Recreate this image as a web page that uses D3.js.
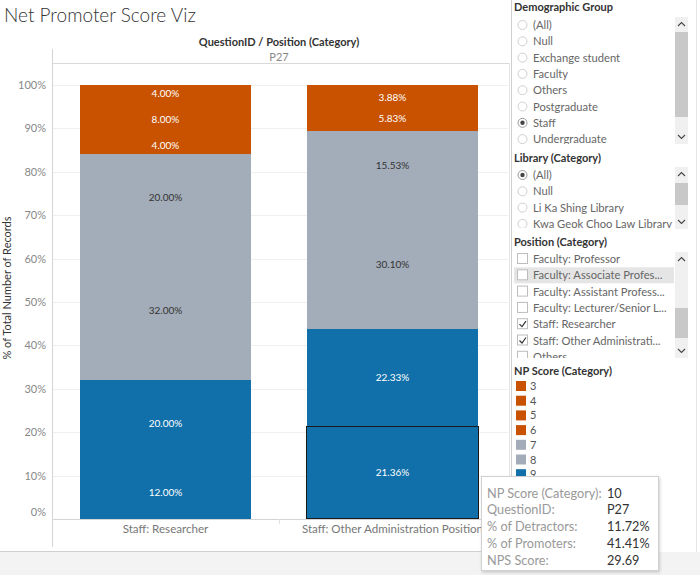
<!DOCTYPE html>
<html>
<head>
<meta charset="utf-8">
<script src="https://cdn.jsdelivr.net/npm/d3@7"></script>
<style>
  html, body { margin: 0; padding: 0; background: #fff; }
  svg { display: block; font-family: Lato, "Open Sans", sans-serif; }
</style>
</head>
<body>
<svg id="chart" width="700" height="575"></svg>
<script>
// ---------------- data ----------------
const categories = ["Staff: Researcher", "Staff: Other Administration Position"];
const scores = ["3", "4", "5", "6", "7", "8", "9", "10"];
const researcherPct = [0, 4.00, 8.00, 4.00, 20.00, 32.00, 20.00, 12.00];
const otherAdminPct = [0.97, 3.88, 5.83, 0, 15.53, 30.10, 22.33, 21.36];
const yTicks = [0, 0.1, 0.2, 0.3, 0.4, 0.5, 0.6, 0.7, 0.8, 0.9, 1.0];
const scoreGroup = ["det", "det", "det", "det", "pas", "pas", "pro", "pro"];
const demographicItems = ["(All)", "Null", "Exchange student", "Faculty", "Others", "Postgraduate", "Staff", "Undergraduate"];
const demographicSelected = "Staff";
const libraryItems = ["(All)", "Null", "Li Ka Shing Library", "Kwa Geok Choo Law Library"];
const librarySelected = "(All)";
const positionItems = ["Faculty: Professor", "Faculty: Associate Profes...", "Faculty: Assistant Profess...", "Faculty: Lecturer/Senior L...", "Staff: Researcher", "Staff: Other Administrati...", "Others"];
const positionChecked = ["Staff: Researcher", "Staff: Other Administrati..."];
const tooltipLabels = ["NP Score (Category):", "QuestionID:", "% of Detractors:", "% of Promoters:", "NPS Score:"];
const tooltipValues = ["10", "P27", "11.72%", "41.41%", "29.69"];

const groupColor = { det: "#c85200", pas: "#a3acb9", pro: "#1170aa" };
const labelColor = { det: "#ffffff", pas: "#333333", pro: "#ffffff" };

// ---------------- setup ----------------
const svg = d3.select("#chart");
const plotLeft = 52, plotRight = 506, yTop = 85, yBottom = 519;

// backgrounds
svg.append("rect").attr("x", 0).attr("y", 552).attr("width", 700).attr("height", 23).attr("fill", "#f3f3f3");
svg.append("line").attr("x1", 0).attr("x2", 511).attr("y1", 551.5).attr("y2", 551.5).attr("stroke", "#cfcfcf");

// title
svg.append("text").attr("x", 4).attr("y", 22).attr("font-size", 19).attr("font-weight", 300)
  .attr("fill", "#333").text("Net Promoter Score Viz");

// scales
const x = d3.scaleBand().domain(categories).range([plotLeft, plotRight]).paddingInner(0.247).paddingOuter(0.1235);
const y = d3.scaleLinear().domain([0, 1]).range([yBottom, yTop]);

// header
svg.append("text").attr("x", (plotLeft + plotRight) / 2).attr("y", 46).attr("text-anchor", "middle")
  .attr("font-size", 11).attr("font-weight", 700).attr("fill", "#333").text("QuestionID / Position (Category)");
svg.append("text").attr("x", (plotLeft + plotRight) / 2).attr("y", 61).attr("text-anchor", "middle")
  .attr("font-size", 11).attr("fill", "#888").text("P27");
svg.append("line").attr("x1", plotLeft).attr("x2", 509).attr("y1", 63.5).attr("y2", 63.5).attr("stroke", "#d9d9d9");

// gridlines
svg.append("g").selectAll("line").data(yTicks.slice(1)).join("line")
  .attr("x1", plotLeft).attr("x2", 508).attr("y1", d => Math.round(y(d)) + 0.5).attr("y2", d => Math.round(y(d)) + 0.5)
  .attr("stroke", "#efefef");

// left axis line
svg.append("line").attr("x1", plotLeft + 0.5).attr("x2", plotLeft + 0.5).attr("y1", 49).attr("y2", 547).attr("stroke", "#d4d4d4");
svg.append("line").attr("x1", 509.5).attr("x2", 509.5).attr("y1", 63).attr("y2", 547).attr("stroke", "#e4e4e4");

// y axis
const yAxis = svg.append("g").attr("transform", `translate(${plotLeft},0)`)
  .call(d3.axisLeft(y).tickValues(yTicks).tickFormat(d3.format(".0%")).tickSize(0).tickPadding(6));
yAxis.select(".domain").remove();
yAxis.selectAll("text").attr("font-size", 11).attr("fill", "#888").attr("font-family", "Lato, sans-serif");
yAxis.selectAll(".tick").filter(d => d === 0).select("text").attr("dy", "-0.3em");

svg.append("text").attr("transform", "translate(11,288) rotate(-90)").attr("text-anchor", "middle")
  .attr("font-size", 11).attr("fill", "#333").text("% of Total Number of Records");

// stacked data
const rows = categories.map((c, i) => {
  const vals = i === 0 ? researcherPct : otherAdminPct;
  const o = { category: c };
  scores.forEach((s, j) => { o[s] = vals[j] / 100; });
  return o;
});
const stackKeys = scores.slice().reverse(); // 10 at bottom
const series = d3.stack().keys(stackKeys)(rows);

const gBars = svg.append("g").attr("shape-rendering", "crispEdges");
series.forEach(s => {
  const idx = scores.indexOf(s.key);
  const grp = scoreGroup[idx];
  s.forEach(d => {
    const v = d[1] - d[0];
    if (v <= 0) return;
    const yTopPx = Math.round(y(d[1])), yBotPx = Math.round(y(d[0]));
    gBars.append("rect")
      .attr("x", Math.round(x(d.data.category))).attr("width", Math.round(x.bandwidth()))
      .attr("y", yTopPx).attr("height", yBotPx - yTopPx)
      .attr("fill", groupColor[grp]);
  });
});
// labels
const gLabels = svg.append("g");
series.forEach(s => {
  const idx = scores.indexOf(s.key);
  const grp = scoreGroup[idx];
  s.forEach(d => {
    const v = d[1] - d[0];
    if (v < 0.02) return;
    gLabels.append("text")
      .attr("x", x(d.data.category) + x.bandwidth() / 2)
      .attr("y", (y(d[0]) + y(d[1])) / 2 + 3.5)
      .attr("text-anchor", "middle").attr("font-size", 10)
      .attr("fill", labelColor[grp]).text((v * 100).toFixed(2) + "%");
  });
});

// selected segment outline (score 10, second category)
const sel = series.find(s => s.key === "10")[1];
svg.append("rect")
  .attr("x", Math.round(x(categories[1])) - 0.5).attr("width", Math.round(x.bandwidth()) + 1)
  .attr("y", Math.round(y(sel[1])) + 0.5).attr("height", Math.round(y(sel[0])) - Math.round(y(sel[1])) - 1)
  .attr("fill", "none").attr("stroke", "#1a1a1a").attr("stroke-width", 1);

// x axis line & labels
svg.append("line").attr("x1", plotLeft).attr("x2", 509).attr("y1", yBottom + 0.5).attr("y2", yBottom + 0.5).attr("stroke", "#d4d4d4");
svg.append("line").attr("x1", 279.5).attr("x2", 279.5).attr("y1", yBottom).attr("y2", yBottom + 5).attr("stroke", "#e0e0e0");
svg.append("g").selectAll("text").data(categories).join("text")
  .attr("x", d => x(d) + x.bandwidth() / 2).attr("y", 533).attr("text-anchor", "middle")
  .attr("font-size", 11.6).attr("fill", "#777").text(d => d);

// ---------------- right panel ----------------
svg.append("line").attr("x1", 511.5).attr("x2", 511.5).attr("y1", 0).attr("y2", 552).attr("stroke", "#cfcfcf");
svg.append("line").attr("x1", 696.5).attr("x2", 696.5).attr("y1", 0).attr("y2", 552).attr("stroke", "#e6e6e6");

const panel = svg.append("g");
function title(t, yy) {
  panel.append("text").attr("x", 514).attr("y", yy + 4).attr("font-size", 11).attr("font-weight", 700)
    .attr("fill", "#333").text(t);
}
function scrollbar(yTopS, yBotS, thumbTop, thumbBot) {
  panel.append("rect").attr("x", 675).attr("y", yTopS).attr("width", 13).attr("height", yBotS - yTopS).attr("fill", "#f0f0f0");
  panel.append("rect").attr("x", 675).attr("y", thumbTop).attr("width", 13).attr("height", thumbBot - thumbTop).attr("fill", "#c8c8c8");
  panel.append("path").attr("d", `M678,${yTopS + 9} L681.5,${yTopS + 5.5} L685,${yTopS + 9}`).attr("fill", "none").attr("stroke", "#444").attr("stroke-width", 1.1);
  panel.append("path").attr("d", `M678,${yBotS - 9} L681.5,${yBotS - 5.5} L685,${yBotS - 9}`).attr("fill", "none").attr("stroke", "#444").attr("stroke-width", 1.1);
}
function radios(items, selected, y0, clipBottom, id) {
  svg.append("clipPath").attr("id", id).append("rect").attr("x", 512).attr("y", y0 - 9).attr("width", 163).attr("height", clipBottom - (y0 - 9));
  const g = panel.append("g").attr("clip-path", `url(#${id})`);
  items.forEach((t, i) => {
    const yy = y0 + i * 16.3;
    g.append("circle").attr("cx", 522.5).attr("cy", yy).attr("r", 4.5).attr("fill", "#fff")
      .attr("stroke", t === selected ? "#999" : "#cfcfcf");
    if (t === selected) g.append("circle").attr("cx", 522.5).attr("cy", yy).attr("r", 2.2).attr("fill", "#444");
    g.append("text").attr("x", 533).attr("y", yy + 4).attr("font-size", 11.2).attr("fill", "#666").text(t);
  });
}

// Demographic Group
title("Demographic Group", 7);
scrollbar(17, 144, 32, 117);
radios(demographicItems, demographicSelected, 25, 144, "clipDemo");

// Library
title("Library (Category)", 157.5);
scrollbar(167, 229, 183, 205);
radios(libraryItems, librarySelected, 175, 228, "clipLib");

// Position
title("Position (Category)", 241.5);
scrollbar(252, 358, 308, 338);
svg.append("clipPath").attr("id", "clipPos").append("rect").attr("x", 512).attr("y", 250).attr("width", 163).attr("height", 108);
const gPos = panel.append("g").attr("clip-path", "url(#clipPos)");
positionItems.forEach((t, i) => {
  const yy = 259 + i * 16.3;
  if (i === 1) gPos.append("rect").attr("x", 514).attr("y", yy - 8).attr("width", 160).attr("height", 16).attr("fill", "#e5e5e5");
  gPos.append("rect").attr("x", 517.5).attr("y", yy - 5.5).attr("width", 10).attr("height", 10).attr("fill", "#fff").attr("stroke", "#bdbdbd");
  if (positionChecked.includes(t)) {
    gPos.append("path").attr("d", `M519.5,${yy} L522,${yy + 2.5} L526,${yy - 3}`).attr("fill", "none").attr("stroke", "#333").attr("stroke-width", 1.2);
  }
  gPos.append("text").attr("x", 533).attr("y", yy + 4).attr("font-size", 11.2).attr("fill", "#666").text(t);
});

// NP Score legend
title("NP Score (Category)", 370.5);
scores.forEach((s, i) => {
  const yy = 386 + i * 14.7;
  panel.append("rect").attr("x", 516).attr("y", yy - 5).attr("width", 10).attr("height", 10).attr("fill", groupColor[scoreGroup[i]]);
  panel.append("text").attr("x", 530).attr("y", yy + 4).attr("font-size", 11).attr("fill", "#555").text(s);
});

// ---------------- tooltip ----------------
const defs = svg.append("defs");
const f = defs.append("filter").attr("id", "shadow").attr("x", "-10%").attr("y", "-10%").attr("width", "130%").attr("height", "130%");
f.append("feDropShadow").attr("dx", 1).attr("dy", 1.5).attr("stdDeviation", 1.5).attr("flood-color", "#000").attr("flood-opacity", 0.18);
const tip = svg.append("g");
tip.append("rect").attr("x", 481.5).attr("y", 476.5).attr("width", 177).attr("height", 94)
  .attr("fill", "#fff").attr("stroke", "#d0d0d0").attr("filter", "url(#shadow)");
tooltipLabels.forEach((t, i) => {
  const yy = 493 + i * 16.8;
  tip.append("text").attr("x", 487).attr("y", yy + 4.5).attr("font-size", 12.7).attr("fill", "#999").text(t);
  tip.append("text").attr("x", 607).attr("y", yy + 4.5).attr("font-size", 12.7).attr("fill", "#333").text(tooltipValues[i]);
});
</script>
</body>
</html>
